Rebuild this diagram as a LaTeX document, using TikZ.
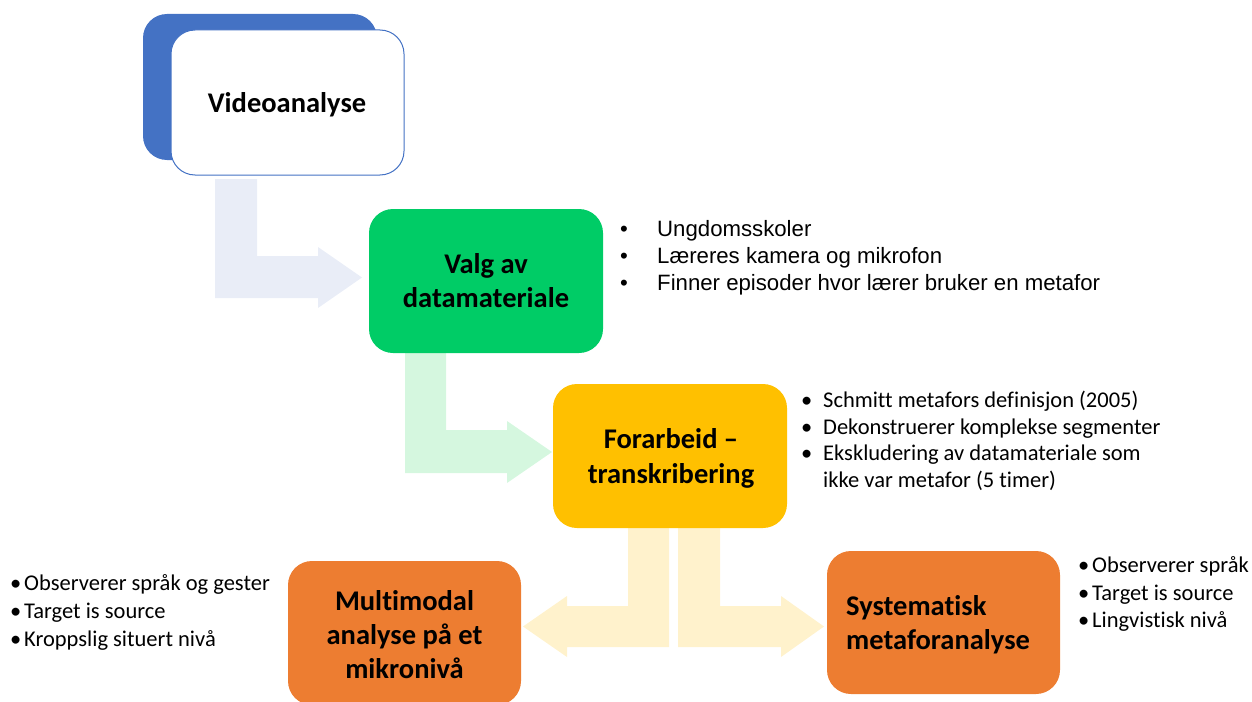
\documentclass[tikz,border=0pt]{standalone}
\usepackage{fontspec}
\setmainfont{Carlito}[Ligatures=NoCommon]
\newfontfamily\arialf{Liberation Sans}
\definecolor{cblue}{HTML}{4472C4}
\definecolor{cgreen}{HTML}{00CC66}
\definecolor{cyellow}{HTML}{FFC000}
\definecolor{corange}{HTML}{ED7D31}
\definecolor{lblue}{HTML}{E9EDF7}
\definecolor{lgreen}{HTML}{D5F7DF}
\definecolor{lyellow}{HTML}{FFF2CC}
\begin{document}
\begin{tikzpicture}[x=1pt,y=-1pt,
  box/.style={rectangle, rounded corners=24pt, inner sep=0pt, outer sep=0pt, minimum width=234pt, minimum height=144pt},
  ttl/.style={anchor=base, inner sep=0pt, font=\fontsize{28.5}{34}\selectfont\bfseries},
  ttlw/.style={anchor=base west, inner sep=0pt, font=\fontsize{28.5}{34}\selectfont\bfseries},
  lista/.style={anchor=base west, inner sep=0pt, font=\arialf\fontsize{22.2}{27}\selectfont},
  listc/.style={anchor=base west, inner sep=0pt, font=\fontsize{22.5}{27}\selectfont}
]
\useasboundingbox (0,0) rectangle (1252,701);

% arrows (bent arrow shapes)
\fill[lblue] (215,179) -- (257,179) -- (257,256) -- (318,256) -- (318,247) -- (362,277.5) -- (318,308) -- (318,298) -- (215,298) -- cycle;
\fill[lgreen] (405,353) -- (446,353) -- (446,430) -- (507,430) -- (507,421) -- (552,452) -- (507,483) -- (507,473) -- (405,473) -- cycle;
\fill[lyellow] (628,528) -- (669,528) -- (669,647) -- (567,647) -- (567,657) -- (523,626.5) -- (567,596) -- (567,606) -- (628,606) -- cycle;
\fill[lyellow] (678,528) -- (720,528) -- (720,606) -- (781,606) -- (781,596) -- (824,626.5) -- (781,657) -- (781,647) -- (678,647) -- cycle;

% Videoanalyse
\node[box, fill=cblue, minimum height=146pt] (videoback) at (260,87) {};
\node[box, fill=white, draw=cblue, line width=1pt, minimum width=233pt, minimum height=145pt] (video) at (287.5,102.5) {};
\node[ttl] (videoT) at (287,112) {Videoanalyse};

% Valg av datamateriale
\node[box, fill=cgreen] (valg) at (486,281) {};
\node[ttl] (valgT1) at (486,273) {Valg av};
\node[ttl] (valgT2) at (486,307) {datamateriale};

% Forarbeid
\node[box, fill=cyellow] (forarb) at (670,456) {};
\node[ttl] (forarbT1) at (671,448) {Forarbeid –};
\node[ttl] (forarbT2) at (671,483) {transkribering};

% Multimodal
\node[box, fill=corange, minimum width=233pt] (multi) at (404.5,633) {};
\node[ttl] (multiT1) at (404.5,610) {Multimodal};
\node[ttl] (multiT2) at (404.5,644) {analyse på et};
\node[ttl] (multiT3) at (404.5,678) {mikronivå};

% Systematisk
\node[box, fill=corange, minimum width=233pt, minimum height=143pt] (syst) at (943.5,622.5) {};
\node[ttlw] (systT1) at (846,615) {Systematisk};
\node[ttlw] (systT2) at (846,649) {metaforanalyse};

% list beside Valg
\node[lista] (va1) at (620,236) {\makebox[37pt][l]{•}Ungdomsskoler};
\node[lista] (va2) at (620,263) {\makebox[37pt][l]{•}Læreres kamera og mikrofon};
\node[lista] (va3) at (620,290) {\makebox[37pt][l]{•}Finner episoder hvor lærer bruker en metafor};

% list beside Forarbeid
\node[listc] (fo1) at (801,407) {\makebox[22pt][l]{•}Schmitt metafors definisjon (2005)};
\node[listc] (fo2) at (801,434) {\makebox[22pt][l]{•}Dekonstruerer komplekse segmenter};
\node[listc] (fo3) at (801,460) {\makebox[22pt][l]{•}Ekskludering av datamateriale som};
\node[listc] (fo4) at (823,487) {ikke var metafor (5 timer)};

% list beside Multimodal
\node[listc] (mu1) at (10,590) {\makebox[14pt][l]{•}Observerer språk og gester};
\node[listc] (mu2) at (10,618) {\makebox[14pt][l]{•}Target is source};
\node[listc] (mu3) at (10,646) {\makebox[14pt][l]{•}Kroppslig situert nivå};

% list beside Systematisk
\node[listc] (sy1) at (1078,572) {\makebox[14pt][l]{•}Observerer språk};
\node[listc] (sy2) at (1078,600) {\makebox[14pt][l]{•}Target is source};
\node[listc] (sy3) at (1078,627) {\makebox[14pt][l]{•}Lingvistisk nivå};
\end{tikzpicture}
\end{document}
